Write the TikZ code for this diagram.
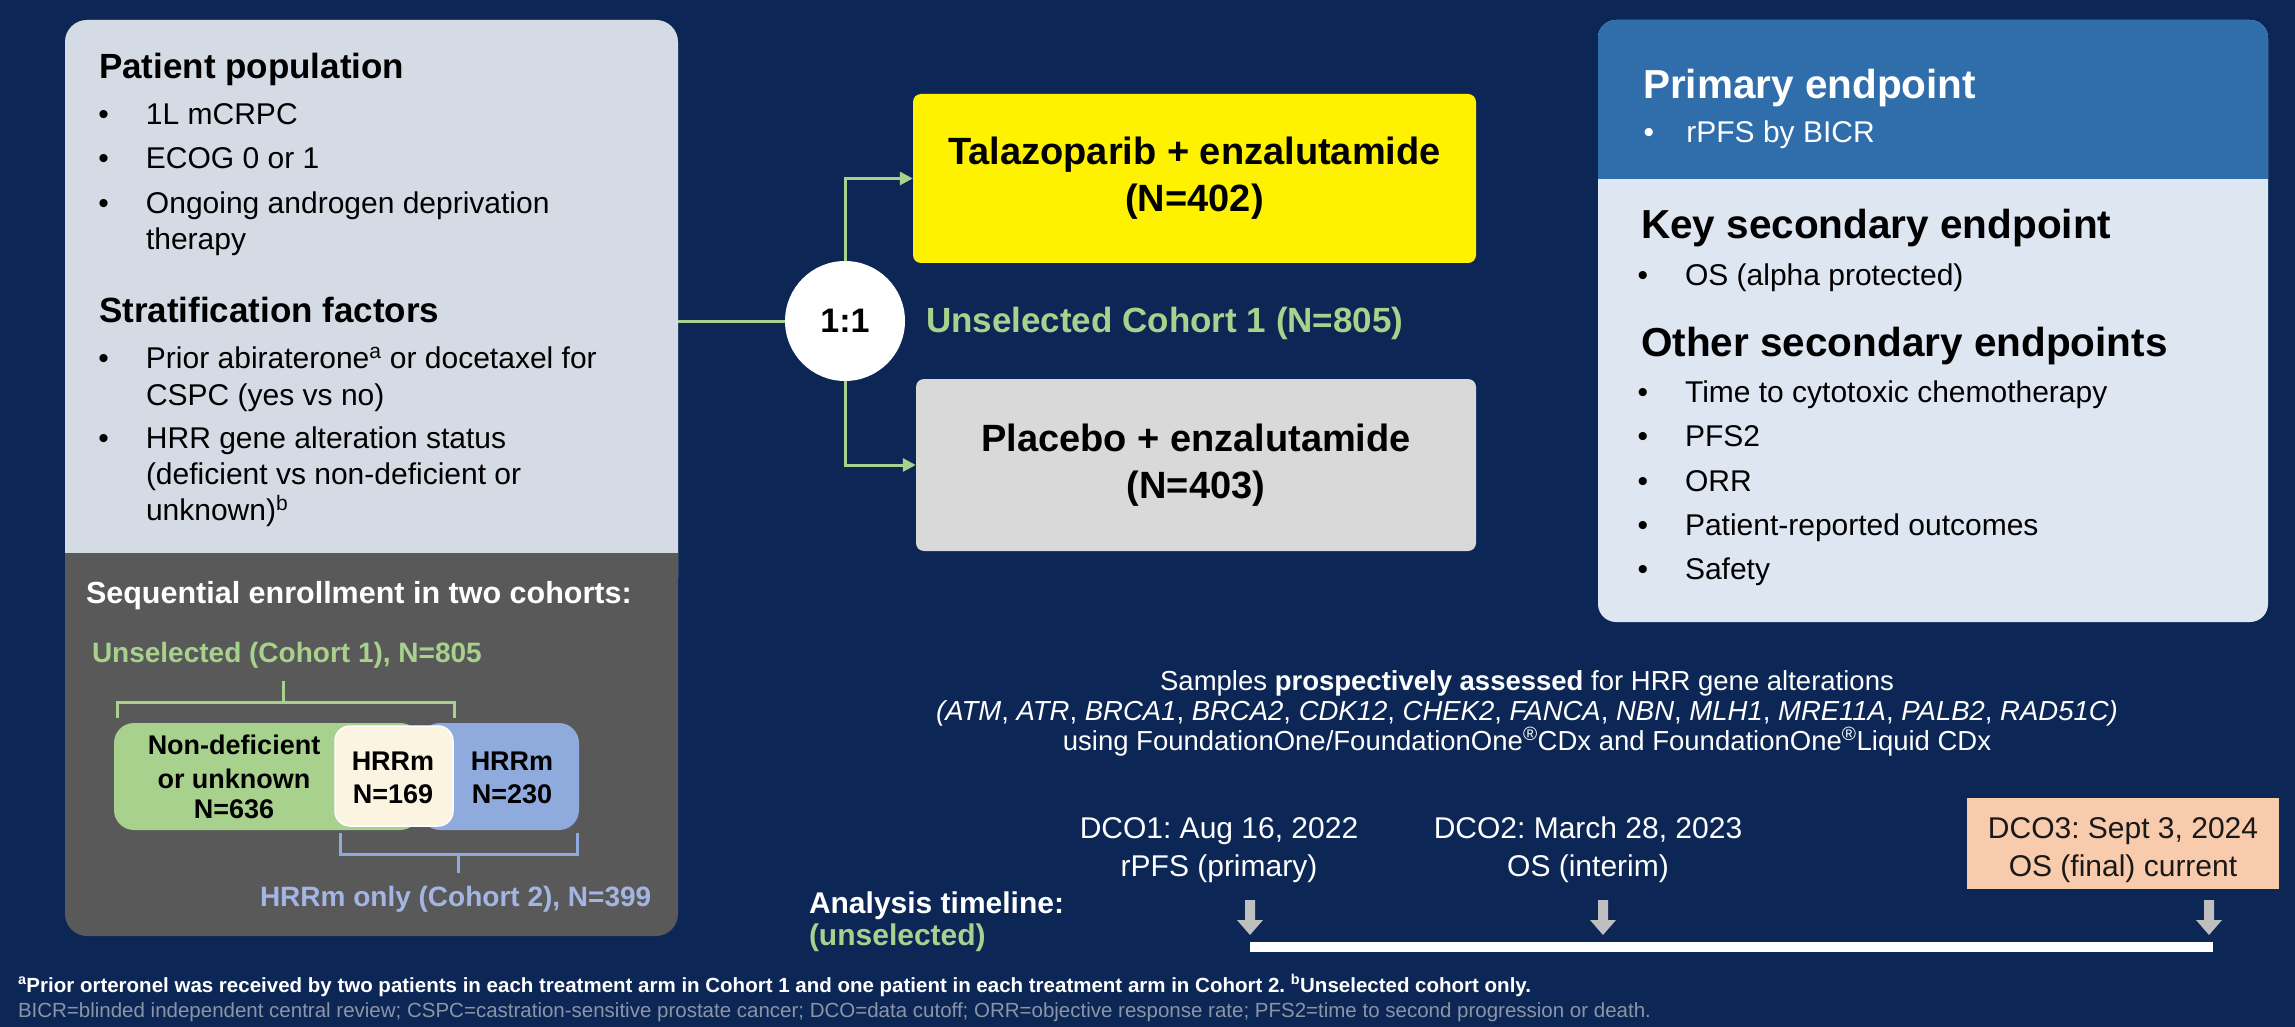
\documentclass[tikz,border=0pt]{standalone}
\usepackage{fontspec}
\setmainfont{Liberation Sans}
\usetikzlibrary{arrows.meta}
\frenchspacing

\definecolor{navy}{HTML}{0C2756}
\definecolor{leftlight}{HTML}{D5DBE4}
\definecolor{leftdark}{HTML}{595959}
\definecolor{cgreen}{HTML}{A9D18E}
\definecolor{cblue}{HTML}{8FAADC}
\definecolor{cream}{HTML}{FBF4E1}
\definecolor{hrrtext}{HTML}{A3B6E3}
\definecolor{armyellow}{HTML}{FFF200}
\definecolor{armgray}{HTML}{D9D9D9}
\definecolor{rblue}{HTML}{2F6DAB}
\definecolor{rlight}{HTML}{DDE6F1}
\definecolor{peach}{HTML}{F8CBAD}
\definecolor{arrowgray}{HTML}{BFBFBF}
\definecolor{footgray}{HTML}{8C95A6}

\newcommand\sz[1]{\fontsize{#1pt}{#1pt}\selectfont}
\newcommand\bul[1][37]{\llap{\textbullet\hspace{#1pt}}}
% grey down arrow above the timeline bar
\newcommand\dcoarrow[1]{%
  \fill[arrowgray] (#1-5,900) -- (#1+5,900) -- (#1+5,920) -- (#1+13,920)
    -- (#1,935) -- (#1-13,920) -- (#1-5,920) -- cycle;}

\begin{document}
\begin{tikzpicture}[x=1pt,y=-1pt,
  t/.style={inner sep=0pt, outer sep=0pt, anchor=base west},
  tc/.style={inner sep=0pt, outer sep=0pt, anchor=base},
  body/.style={t, font=\sz{30}},
  ttl/.style={t, font=\sz{35}\bfseries},
  rttl/.style={t, font=\sz{40.5}\bfseries},
  barlbl/.style={tc, font=\sz{27}\bfseries, text=black},
  arm/.style={rounded corners=8pt, inner sep=0pt, align=center,
    font=\fontsize{38pt}{47pt}\selectfont\bfseries, text=black},
  conn/.style={draw=cgreen, line width=3pt},
  brace/.style={line width=3pt},
  dco/.style={tc, font=\sz{30}},
  foot/.style={t, font=\sz{20.5}}
]
\fill[navy] (0,0) rectangle (2295,1027);
\useasboundingbox (0,0) rectangle (2295,1027);

% ---------- left panel ----------
\fill[leftdark, rounded corners=22pt] (65,20) rectangle (678,936);
\fill[leftlight, rounded corners=22pt] (65,20) rectangle (678,600);
\fill[leftdark] (65,553) rectangle (678,620);
\node[inner sep=0pt, minimum width=613pt, minimum height=916pt] (leftbox) at (371.5,478) {};

\node[ttl] (pp) at (99,79) {Patient population};
\node[body] (b1) at (146,125) {\bul 1L mCRPC};
\node[body] (b2) at (146,169) {\bul ECOG 0 or 1};
\node[body] (b3) at (146,214) {\bul Ongoing androgen deprivation};
\node[body] (b3b) at (146,250) {therapy};
\node[ttl] (sf) at (99,322) {Stratification factors};
\node[body] (b4) at (146,368) {\bul Prior abiraterone\textsuperscript{a} or docetaxel for};
\node[body] (b4b) at (146,405) {CSPC (yes vs no)};
\node[body] (b5) at (146,448) {\bul HRR gene alteration status};
\node[body] (b5b) at (146,484) {(deficient vs non-deficient or};
\node[body] (b5c) at (146,520) {unknown)\textsuperscript{b}};

\node[t, font=\sz{30.5}\bfseries, text=white] (seq) at (86,603) {Sequential enrollment in two cohorts:};
\node[t, font=\sz{28}\bfseries, text=cgreen] (c1lbl) at (92,662) {Unselected (Cohort 1), N=805};

% cohort bar
\fill[cblue, rounded corners=20pt] (420,723) rectangle (579,830);
\fill[cgreen, rounded corners=20pt] (114,723) rectangle (420,830);
\filldraw[fill=cream, draw=white, line width=1.5pt, rounded corners=15pt] (335,726) rectangle (453,826);
\node[inner sep=0pt, minimum width=465pt, minimum height=107pt] (cbar) at (346.5,776.5) {};
\node[barlbl] (nd1) at (234,754) {Non-deficient};
\node[barlbl] (nd2) at (234,788) {or unknown};
\node[barlbl] (nd3) at (234,818) {N=636};
\node[barlbl] (h1a) at (393,770) {HRRm};
\node[barlbl] (h1b) at (393,803) {N=169};
\node[barlbl] (h2a) at (512,770) {HRRm};
\node[barlbl] (h2b) at (512,803) {N=230};

% brackets
\draw[brace, cgreen] (117,718) -- (117,702) -- (454,702) -- (454,718);
\draw[brace, cgreen] (283,702) -- (283,681);
\draw[brace, cblue] (340,833) -- (340,854) -- (577,854) -- (577,833);
\draw[brace, cblue] (458,854) -- (458,873);
\node[t, font=\sz{28}\bfseries, text=hrrtext] (c2lbl) at (260,906) {HRRm only (Cohort 2), N=399};

% ---------- randomisation ----------
\node[arm, fill=armyellow, minimum width=563pt, minimum height=169pt] (talaz) at (1194.5,178.5)
  {Talazoparib + enzalutamide\\(N=402)};
\node[arm, fill=armgray, minimum width=560pt, minimum height=172pt] (placebo) at (1196,465)
  {Placebo + enzalutamide\\(N=403)};
\node[circle, fill=white, minimum size=120pt, inner sep=0pt, font=\sz{34}\bfseries, text=black] (ratio) at (845,321) {1:1};

\draw[conn] (ratio.west -| leftbox.east) -- (ratio.west);
\draw[conn, -{Triangle[length=13pt,width=13pt]}] (ratio.north) -- (ratio.north |- talaz.west) -- (talaz.west);
\draw[conn, -{Triangle[length=13pt,width=13pt]}] (ratio.south) -- (ratio.south |- placebo.west) -- (placebo.west);

\node[t, font=\sz{35}\bfseries, text=cgreen] (unsel) at (926,332) {Unselected Cohort 1 (N=805)};

% ---------- endpoints panel ----------
\fill[rlight, rounded corners=18pt] (1598,20) rectangle (2268,622);
\fill[rblue, rounded corners=18pt] (1598,20) rectangle (2268,220);
\fill[rlight] (1598,179) rectangle (2268,240);

\node[rttl, text=white] (pe) at (1643,99) {Primary endpoint};
\node[body, text=white] (pe1) at (1678,143) {\bul[24] rPFS by BICR};
\node[rttl] (kse) at (1641,239) {Key secondary endpoint};
\node[body] (kse1) at (1685,286) {\bul OS (alpha protected)};
\node[rttl] (ose) at (1641,356) {Other secondary endpoints};
\node[body] (o1) at (1685,402) {\bul Time to cytotoxic chemotherapy};
\node[body] (o2) at (1685,446) {\bul PFS2};
\node[body] (o3) at (1685,491) {\bul ORR};
\node[body] (o4) at (1685,535) {\bul Patient-reported outcomes};
\node[body] (o5) at (1685,579) {\bul Safety};

% ---------- HRR assessment ----------
\node[tc, font=\sz{27.5}, text=white] (s1) at (1527,690) {Samples \textbf{prospectively assessed} for HRR gene alterations};
\node[tc, font=\sz{27.5}, text=white] (s2) at (1527,720) {\textit{(ATM}, \textit{ATR}, \textit{BRCA1}, \textit{BRCA2}, \textit{CDK12}, \textit{CHEK2}, \textit{FANCA}, \textit{NBN}, \textit{MLH1}, \textit{MRE11A}, \textit{PALB2}, \textit{RAD51C)}};
\node[tc, font=\sz{27.5}, text=white] (s3) at (1527,750) {using FoundationOne/FoundationOne\textsuperscript{®}CDx and FoundationOne\textsuperscript{®}Liquid CDx};

% ---------- timeline ----------
\node[dco, text=white] (d1a) at (1219,838) {DCO1: Aug 16, 2022};
\node[dco, text=white] (d1b) at (1219,876) {rPFS (primary)};
\node[dco, text=white] (d2a) at (1588,838) {DCO2: March 28, 2023};
\node[dco, text=white] (d2b) at (1588,876) {OS (interim)};
\node[fill=peach, inner sep=0pt, minimum width=312pt, minimum height=91pt] (d3box) at (2123,843.5) {};
\node[dco, text=black!90] (d3a) at (2123,838) {DCO3: Sept 3, 2024};
\node[dco, text=black!90] (d3b) at (2123,876) {OS (final) current};

\node[t, font=\sz{30}\bfseries, text=white] (atl) at (809,913) {Analysis timeline:};
\node[t, font=\sz{30}\bfseries, text=cgreen] (atl2) at (809,945) {(unselected)};

\node[fill=white, inner sep=0pt, minimum width=963pt, minimum height=10pt] (tbar) at (1731.5,947) {};
\dcoarrow{1250}
\dcoarrow{1603}
\dcoarrow{2209}

% ---------- footnotes ----------
\node[foot, font=\sz{20.5}\bfseries, text=white] (fn1) at (18,992)
  {\textsuperscript{a}Prior orteronel was received by two patients in each treatment arm in Cohort 1 and one patient in each treatment arm in Cohort 2. \textsuperscript{b}Unselected cohort only.};
\node[foot, text=footgray] (fn2) at (18,1017)
  {BICR=blinded independent central review; CSPC=castration-sensitive prostate cancer; DCO=data cutoff; ORR=objective response rate; PFS2=time to second progression or death.};
\end{tikzpicture}
\end{document}
